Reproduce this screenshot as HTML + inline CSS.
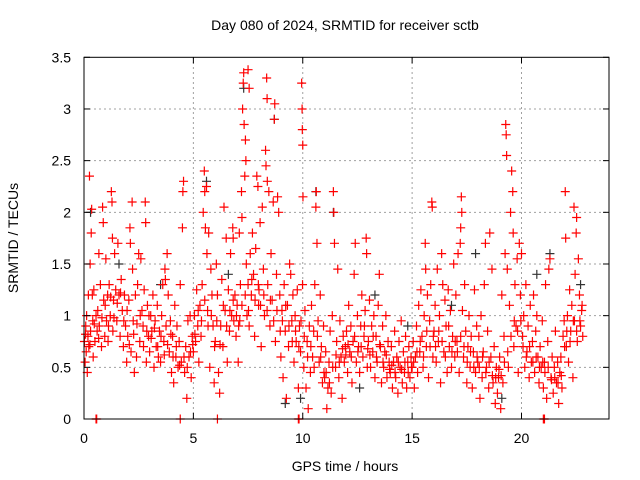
<!DOCTYPE html>
<html><head><meta charset="utf-8"><style>
body{margin:0;background:#fff}
svg{display:block;font-family:"Liberation Sans",sans-serif}
</style></head><body>
<svg id="chart" width="640" height="480">
<rect width="640" height="480" fill="#fff"/>
<text x="345" y="30" font-size="14" text-anchor="middle">Day 080 of 2024, SRMTID for receiver sctb</text>
<text x="345" y="471" font-size="14" text-anchor="middle">GPS time / hours</text>
<text transform="translate(18,238) rotate(-90)" font-size="14" text-anchor="middle">SRMTID / TECUs</text>
<g id="grid"></g>
<g id="black"></g>
<g id="red"></g>
<rect x="84" y="57.3" width="525" height="361.7" fill="none" stroke="#000" stroke-width="1"/>
<g id="ticks"></g>
</svg>
<script>
const xTicks=[0,5,10,15,20];
const yTicks=[0,0.5,1,1.5,2,2.5,3,3.5];
const yTickLabels=["0","0.5","1","1.5","2","2.5","3","3.5"];
const blackPoints=[[0.3,2.0],[5.6,2.3],[10.6,2.2],[11.4,2.0],[7.3,3.2],[8.7,2.9],[9.9,0.2],[19.1,0.2],[14.8,0.9],[16.8,1.1],[20.7,1.4],[22.7,1.3],[3.5,1.3],[12.6,0.3],[17.9,1.6],[1.6,1.5],[6.6,1.4],[13.3,1.2],[21.3,1.6],[9.2,0.15]];
const redPoints=[
[0.02,0.75],[0.05,0.55],[0.08,0.9],[0.1,0.65],[0.12,1.0],[0.15,0.45],[0.18,0.8],[0.2,1.2],[0.22,0.7],[0.25,2.35],[0.28,1.5],[0.3,0.85],[0.33,1.8],[0.35,2.03],[0.38,1.2],[0.4,0.95],[0.42,0.6],[0.45,1.25],[0.5,0.75],[0.55,1.0],[0.6,0.85],[0.63,1.05],[0.68,1.6],[0.7,0.9],[0.75,1.3],[0.8,0.7],[0.85,2.05],[0.88,1.9],[0.9,1.15],[0.95,0.8],
[1.0,1.55],[1.03,0.95],[1.08,1.2],[1.1,0.75],[1.15,1.3],[1.2,1.0],[1.25,2.2],[1.28,2.1],[1.3,1.75],[1.32,0.85],[1.35,1.15],[1.4,1.6],[1.45,1.25],[1.5,0.95],[1.55,1.7],[1.6,1.2],[1.65,0.8],[1.7,1.35],[1.75,1.05],[1.8,0.7],[1.85,1.2],[1.9,0.9],[1.95,0.55],
[2.0,0.8],[2.05,1.15],[2.1,1.85],[2.12,1.7],[2.15,0.65],[2.2,2.1],[2.22,1.45],[2.25,0.95],[2.3,0.45],[2.35,1.2],[2.4,0.6],[2.45,1.3],[2.5,1.6],[2.55,0.75],[2.6,1.55],[2.65,1.05],[2.7,0.9],[2.75,1.25],[2.8,2.1],[2.82,1.9],[2.85,0.55],[2.9,1.1],[2.95,0.8],
[3.0,0.65],[3.05,1.0],[3.1,0.85],[3.15,1.2],[3.2,0.5],[3.25,0.95],[3.3,0.7],[3.35,1.1],[3.4,0.6],[3.45,0.85],[3.5,0.55],[3.55,1.0],[3.6,1.3],[3.65,0.75],[3.7,1.45],[3.72,1.35],[3.75,0.9],[3.8,1.6],[3.85,1.2],[3.9,0.65],[3.95,0.95],
[4.0,0.45],[4.05,0.8],[4.1,0.35],[4.15,1.1],[4.2,0.6],[4.25,0.9],[4.3,0.5],[4.35,0.75],[4.4,1.3],[4.45,0.55],[4.5,1.85],[4.52,2.2],[4.55,2.3],[4.6,0.45],[4.65,0.7],[4.7,0.2],[4.75,0.95],[4.8,0.6],[4.85,1.0],[4.9,0.4],[4.95,0.8],
[5.0,0.65],[5.05,1.0],[5.1,0.75],[5.15,1.25],[5.2,0.9],[5.25,0.55],[5.3,1.1],[5.35,0.8],[5.4,1.3],[5.45,2.0],[5.5,2.4],[5.52,2.2],[5.55,1.85],[5.6,2.25],[5.62,1.6],[5.65,1.05],[5.7,1.8],[5.75,0.5],[5.8,1.45],[5.85,1.2],[5.9,0.9],[5.95,0.35],
[6.0,0.75],[6.05,1.5],[6.1,1.2],[6.15,0.45],[6.2,0.25],[6.25,0.9],[6.3,1.35],[6.35,0.7],[6.4,2.05],[6.45,1.05],[6.5,1.75],[6.55,0.55],[6.6,1.25],[6.65,0.85],[6.7,1.6],[6.75,1.0],[6.8,1.85],[6.82,1.75],[6.85,0.95],[6.9,1.2],[6.95,0.8],
[7.0,1.1],[7.05,0.55],[7.1,1.8],[7.12,0.95],[7.15,1.3],[7.2,2.2],[7.22,1.95],[7.25,3.0],[7.28,3.25],[7.3,3.35],[7.32,2.85],[7.35,2.35],[7.38,2.7],[7.4,2.5],[7.42,1.5],[7.45,1.0],[7.5,3.38],[7.55,3.2],[7.5,1.3],[7.55,0.9],[7.6,1.6],[7.65,1.2],[7.7,1.8],[7.75,1.4],[7.8,0.8],[7.85,1.65],[7.9,2.35],[7.95,2.25],[7.98,1.1],
[8.0,1.25],[8.05,1.9],[8.1,0.7],[8.15,2.05],[8.2,1.45],[8.25,1.0],[8.3,2.6],[8.32,2.45],[8.35,3.3],[8.37,3.1],[8.38,2.3],[8.4,1.3],[8.45,2.2],[8.5,0.9],[8.55,1.6],[8.6,1.15],[8.65,2.1],[8.7,2.9],[8.72,3.05],[8.75,0.75],[8.8,1.4],[8.85,2.15],[8.9,2.0],[8.95,1.2],
[9.0,0.6],[9.05,1.05],[9.1,0.4],[9.15,1.3],[9.2,0.85],[9.25,0.2],[9.3,1.1],[9.35,0.7],[9.4,1.5],[9.45,1.4],[9.5,0.95],[9.55,1.2],[9.6,0.55],[9.65,1.0],[9.7,0.75],[9.75,1.25],[9.8,0.3],[9.85,0.9],[9.9,0.65],[9.95,3.25],[9.97,3.0],[9.98,2.8],[10.0,2.65],[10.01,2.15],[9.99,1.3],
[10.05,0.5],[10.1,1.05],[10.15,0.3],[10.2,0.75],[10.25,0.1],[10.3,0.9],[10.35,0.45],[10.4,1.1],[10.45,0.6],[10.5,0.85],[10.55,1.3],[10.6,2.05],[10.62,2.2],[10.65,1.7],[10.7,0.95],[10.75,0.55],[10.8,1.2],[10.85,0.7],[10.9,0.35],[10.95,0.9],
[11.0,0.4],[11.05,0.65],[11.1,0.1],[11.15,0.3],[11.2,0.55],[11.25,0.85],[11.3,0.25],[11.35,1.0],[11.4,2.2],[11.42,2.0],[11.45,1.7],[11.5,0.5],[11.55,0.75],[11.6,1.45],[11.65,0.4],[11.7,0.95],[11.75,0.6],[11.8,0.2],[11.85,0.8],[11.9,0.55],[11.95,0.7],
[12.0,0.85],[12.05,0.45],[12.1,1.1],[12.15,0.65],[12.2,0.9],[12.25,0.35],[12.3,0.75],[12.35,1.4],[12.4,1.7],[12.45,0.55],[12.5,1.0],[12.55,0.7],[12.6,0.45],[12.65,0.9],[12.7,1.2],[12.75,0.6],[12.8,0.8],[12.85,1.05],[12.9,1.75],[12.92,1.6],[12.95,0.5],
[13.0,0.75],[13.05,1.15],[13.1,0.5],[13.15,0.9],[13.2,0.65],[13.25,1.0],[13.3,0.4],[13.35,0.8],[13.4,0.55],[13.45,1.1],[13.5,1.4],[13.55,0.7],[13.6,0.35],[13.65,0.9],[13.7,0.5],[13.75,0.65],[13.8,1.0],[13.85,0.4],[13.9,0.75],[13.95,0.55],
[14.0,0.45],[14.05,0.7],[14.1,0.3],[14.15,0.55],[14.2,0.85],[14.25,0.4],[14.3,0.6],[14.35,0.25],[14.4,0.75],[14.45,0.5],[14.5,0.95],[14.55,0.35],[14.6,0.65],[14.65,0.45],[14.7,0.8],[14.75,0.3],[14.8,0.55],[14.85,0.7],[14.9,0.4],[14.95,0.6],
[15.0,0.5],[15.05,0.75],[15.1,0.3],[15.15,0.6],[15.2,0.9],[15.25,0.45],[15.3,1.1],[15.35,0.65],[15.4,1.25],[15.45,0.8],[15.5,0.5],[15.55,1.0],[15.6,1.7],[15.62,1.45],[15.65,0.7],[15.7,1.2],[15.75,0.4],[15.8,0.95],[15.85,1.3],[15.9,2.1],[15.92,2.05],[15.95,0.6],
[16.0,0.85],[16.05,1.1],[16.1,0.55],[16.15,1.45],[16.2,0.75],[16.25,1.0],[16.3,0.35],[16.35,1.6],[16.4,1.3],[16.45,0.65],[16.5,1.15],[16.55,0.9],[16.6,0.45],[16.65,1.25],[16.7,0.7],[16.75,1.05],[16.8,0.5],[16.85,0.8],[16.9,1.5],[16.95,0.6],
[17.0,1.2],[17.05,0.75],[17.1,1.6],[17.15,0.45],[17.2,1.7],[17.22,1.85],[17.25,2.15],[17.27,2.0],[17.3,1.05],[17.35,0.6],[17.4,1.3],[17.45,0.85],[17.5,0.35],[17.55,0.7],[17.6,1.0],[17.65,0.5],[17.7,0.8],[17.75,0.3],[17.8,0.65],[17.85,1.25],[17.9,0.45],[17.95,0.9],
[18.0,0.55],[18.05,0.8],[18.1,0.2],[18.15,1.0],[18.2,0.4],[18.25,0.65],[18.3,1.3],[18.35,1.7],[18.4,0.5],[18.45,0.85],[18.5,0.3],[18.55,1.8],[18.6,0.6],[18.65,1.45],[18.7,0.35],[18.75,0.7],[18.8,0.15],[18.85,0.5],[18.9,0.25],[18.95,0.4],
[19.0,0.6],[19.05,0.1],[19.1,1.2],[19.15,0.35],[19.2,0.8],[19.25,1.6],[19.28,2.85],[19.3,2.75],[19.32,2.55],[19.35,1.45],[19.4,0.5],[19.45,1.1],[19.5,2.0],[19.55,2.4],[19.6,2.2],[19.62,1.8],[19.65,0.7],[19.7,1.3],[19.75,0.9],[19.8,1.55],[19.85,0.45],[19.9,1.7],[19.95,1.2],
[20.0,1.6],[20.05,0.8],[20.1,1.0],[20.15,0.5],[20.2,1.3],[20.25,0.65],[20.3,0.9],[20.35,0.4],[20.4,1.1],[20.45,0.55],[20.5,0.75],[20.55,1.2],[20.6,0.45],[20.65,0.85],[20.7,1.0],[20.75,0.6],[20.8,0.35],[20.85,0.7],[20.9,0.5],[20.95,0.95],
[21.0,0.3],[21.05,0.55],[21.1,1.3],[21.15,0.2],[21.2,0.75],[21.25,1.45],[21.3,1.55],[21.35,0.4],[21.4,0.6],[21.45,0.25],[21.5,0.5],[21.55,0.85],[21.6,0.35],[21.65,0.55],[21.7,0.15],[21.75,0.45],[21.8,0.6],[21.85,0.3],[21.9,0.8],[21.95,0.95],
[22.0,2.2],[22.02,1.75],[22.05,0.7],[22.1,1.0],[22.15,0.55],[22.2,1.25],[22.25,0.85],[22.3,1.1],[22.35,0.4],[22.4,2.05],[22.42,0.95],[22.45,1.4],[22.5,1.8],[22.52,1.95],[22.55,0.75],[22.6,1.55],[22.65,1.2],[22.7,0.9],[22.75,1.05],[22.8,0.8],
[0.55,0],[0.58,0],[4.4,0],[6.1,0],[9.8,0],[9.83,0],[21.0,0],[21.05,0]
];
const redCorePoints=[
[0.07,0.82],[0.27,0.72],[0.47,0.92],[0.67,0.78],[0.82,0.98],[0.97,1.1],
[1.12,0.9],[1.22,1.18],[1.37,0.98],[1.52,1.12],[1.67,1.22],[1.82,0.95],[1.97,1.05],
[2.07,0.72],[2.27,0.82],[2.42,0.92],[2.57,1.0],[2.72,0.7],[2.87,0.85],[2.97,1.0],
[3.07,0.78],[3.22,0.88],[3.37,0.7],[3.52,0.8],[3.67,0.62],[3.82,0.72],[3.97,0.82],
[4.07,0.6],[4.22,0.7],[4.37,0.52],[4.57,0.6],[4.72,0.5],[4.87,0.65],[4.97,0.72],
[5.07,0.82],[5.22,1.05],[5.37,0.95],[5.52,1.15],[5.67,0.9],[5.82,1.0],[5.97,0.7],
[6.07,0.95],[6.22,0.72],[6.37,1.1],[6.52,0.9],[6.67,1.05],[6.82,1.15],[6.97,1.0],
[7.07,0.9],[7.22,1.1],[7.37,1.2],[7.52,1.05],[7.67,1.35],[7.82,1.15],[7.97,1.3],
[8.07,1.1],[8.22,1.2],[8.37,1.05],[8.52,1.15],[8.67,0.95],[8.82,1.05],[8.97,0.85],
[9.07,0.95],[9.22,1.1],[9.37,0.9],[9.52,0.75],[9.67,0.85],[9.82,0.7],[9.92,0.95],
[10.07,0.8],[10.22,0.6],[10.37,0.7],[10.52,0.5],[10.67,0.8],[10.82,0.6],[10.97,0.45],
[11.07,0.45],[11.22,0.35],[11.37,0.5],[11.52,0.62],[11.67,0.55],[11.82,0.68],[11.97,0.62],
[12.07,0.72],[12.22,0.6],[12.37,0.8],[12.52,0.65],[12.67,0.7],[12.82,0.9],[12.97,0.68],
[13.07,0.62],[13.22,0.8],[13.37,0.6],[13.52,0.72],[13.67,0.55],[13.82,0.62],[13.97,0.48],
[14.07,0.52],[14.22,0.45],[14.37,0.55],[14.52,0.48],[14.67,0.55],[14.82,0.45],[14.97,0.5],
[15.07,0.55],[15.22,0.65],[15.37,0.75],[15.52,0.6],[15.67,0.85],[15.82,0.7],[15.97,0.8],
[16.07,0.7],[16.22,0.85],[16.37,0.75],[16.52,0.6],[16.67,0.9],[16.82,0.65],[16.97,0.75],
[17.07,0.65],[17.22,0.8],[17.37,0.7],[17.52,0.55],[17.67,0.65],[17.82,0.5],[17.97,0.6],
[18.07,0.5],[18.22,0.6],[18.37,0.45],[18.52,0.55],[18.67,0.42],[18.82,0.4],[18.97,0.48],
[19.07,0.42],[19.22,0.55],[19.37,0.65],[19.52,0.8],[19.67,0.95],[19.82,0.85],[19.97,0.95],
[20.07,0.7],[20.22,0.6],[20.37,0.7],[20.52,0.55],[20.67,0.6],[20.82,0.5],[20.97,0.55],
[21.07,0.45],[21.22,0.5],[21.37,0.38],[21.52,0.4],[21.67,0.35],[21.82,0.42],[21.97,0.7],
[22.07,0.85],[22.22,0.75],[22.37,0.95],[22.52,0.85],[22.67,0.95],[22.77,1.1]
];
const NS="http://www.w3.org/2000/svg";
const X0=84,X1=609,Y0=419,Y1=57.3,XMAX=24,YMAX=3.5;
function xs(v){return X0+(X1-X0)*v/XMAX;}
function ys(v){return Y0-(Y0-Y1)*v/YMAX;}
const grid=document.getElementById('grid'),ticks=document.getElementById('ticks'),svg=document.getElementById('chart');
function line(g,x1,y1,x2,y2,st,dash){const l=document.createElementNS(NS,'line');l.setAttribute('x1',x1);l.setAttribute('y1',y1);l.setAttribute('x2',x2);l.setAttribute('y2',y2);l.setAttribute('stroke',st);if(dash)l.setAttribute('stroke-dasharray',dash);g.appendChild(l);return l;}
xTicks.forEach((t,i)=>{const x=xs(t);
 if(t>0){const gl=line(grid,x,Y0,x,Y1,'#a0a0a0','2,3');
 
 }
 line(ticks,x,Y0,x,Y0-6,'#000');line(ticks,x,Y1,x,Y1+6,'#000');
 const tx=document.createElementNS(NS,'text');tx.setAttribute('x',x);tx.setAttribute('y',Y0+24);tx.setAttribute('font-size','14');tx.setAttribute('text-anchor','middle');tx.textContent=String(t);
 
 
 svg.appendChild(tx);});
yTicks.forEach((t,i)=>{const y=ys(t);
 if(t>0&&t<YMAX){const gl=line(grid,X0,y,X1,y,'#a0a0a0','2,3');
 
 }
 line(ticks,X0,y,X0+6,y,'#000');line(ticks,X1,y,X1-6,y,'#000');
 const tx=document.createElementNS(NS,'text');tx.setAttribute('x',X0-13);tx.setAttribute('y',y+5);tx.setAttribute('font-size','14');tx.setAttribute('text-anchor','end');tx.textContent=yTickLabels[i];
 
 
 svg.appendChild(tx);});
function cross(g,p,col){const x=xs(p[0]),y=ys(p[1]);const pa=document.createElementNS(NS,'path');
 pa.setAttribute('d',`M${x-4.5},${y}H${x+4.5}M${x},${y-4.5}V${y+4.5}`);pa.setAttribute('stroke',col);pa.setAttribute('stroke-width','1.2');
 
 
 g.appendChild(pa);}
blackPoints.forEach(p=>cross(document.getElementById('black'),p,'#333'));
redPoints.forEach(p=>cross(document.getElementById('red'),p,'#ff0000'));
redCorePoints.forEach(p=>cross(document.getElementById('red'),p,'#ff0000'));
</script>
</body></html>
